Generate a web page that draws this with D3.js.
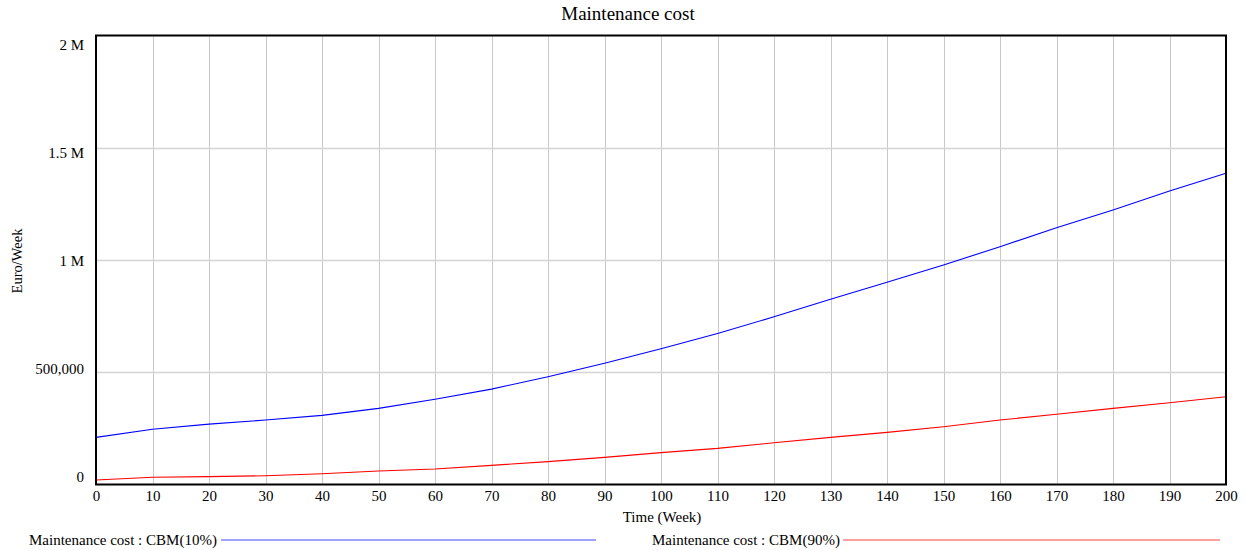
<!DOCTYPE html>
<html>
<head>
<meta charset="utf-8">
<script src="https://cdn.jsdelivr.net/npm/d3@7"></script>
<style>
  html, body { margin: 0; padding: 0; background: #fff; }
  svg { display: block; }
  text { font-family: "Liberation Serif", "DejaVu Serif", serif; fill: #000; }
</style>
</head>
<body>
<svg id="chart" width="1246" height="550"></svg>
<script>
// Data
const weeks = [0,10,20,30,40,50,60,70,80,90,100,110,120,130,140,150,160,170,180,190,200];
const cbm10 = [210000,246000,269000,287000,308000,339000,380000,425000,480000,540000,605000,673000,747000,825000,901000,978000,1059000,1144000,1223000,1307000,1386000];
const cbm90 = [20000,32000,35000,39000,48000,60000,69000,85000,102000,121000,142000,161000,186000,210000,232000,257000,287000,313000,339000,364000,391000];
const xTicks = d3.range(0, 201, 10);
const yTicks = [0, 500000, 1000000, 1500000, 2000000];
const yTickLabels = ["0", "500,000", "1 M", "1.5 M", "2 M"];
const seriesNames = ["Maintenance cost : CBM(10%)", "Maintenance cost : CBM(90%)"];
const seriesColors = ["#0000ff", "#ff0000"];

const svg = d3.select("#chart");
const m = { left: 96, right: 1226, top: 35.5, bottom: 484.5 };

const x = d3.scaleLinear().domain([0, 200]).range([m.left, m.right]);
const y = d3.scaleLinear().domain([0, 2000000]).range([m.bottom, m.top]);
// tick labels are kept inside the plot's vertical extent
const yLab = d3.scaleLinear().domain([0, 2000000]).range([m.bottom - 8, m.top + 9]);

// gridlines
const grid = svg.append("g");
grid.selectAll("line.v").data(xTicks.slice(1, -1)).join("line")
  .attr("x1", d => Math.round(x(d)) + 0.5).attr("x2", d => Math.round(x(d)) + 0.5)
  .attr("y1", m.top).attr("y2", m.bottom)
  .attr("stroke", "#c8c8c8").attr("stroke-width", 1);
grid.selectAll("line.h").data(yTicks.slice(1, -1)).join("line")
  .attr("x1", m.left).attr("x2", m.right)
  .attr("y1", d => Math.round(y(d)) + 0.5).attr("y2", d => Math.round(y(d)) + 0.5)
  .attr("stroke", "#d4d4d4").attr("stroke-width", 1.5);

// series lines
const line = d3.line().x((d, i) => x(weeks[i])).y(d => y(d));
[cbm10, cbm90].forEach((s, k) => {
  svg.append("path").datum(s)
    .attr("d", line)
    .attr("fill", "none")
    .attr("stroke", seriesColors[k])
    .attr("stroke-width", 1.1);
});

// frame
svg.append("rect")
  .attr("x", m.left).attr("y", m.top)
  .attr("width", m.right - m.left).attr("height", m.bottom - m.top)
  .attr("fill", "none").attr("stroke", "#000").attr("stroke-width", 2);

// axes (labels only)
const xAxis = d3.axisBottom(x).tickValues(xTicks).tickSize(0).tickPadding(6);
const gx = svg.append("g").attr("transform", `translate(0,${m.bottom})`).call(xAxis);
gx.select(".domain").remove();
gx.selectAll("text").style("font-size", "15px").style("font-family", "Liberation Serif");

const yAxis = d3.axisLeft(yLab).tickValues(yTicks).tickFormat((d, i) => yTickLabels[i]).tickSize(0).tickPadding(12);
const gy = svg.append("g").attr("transform", `translate(${m.left},0)`).call(yAxis);
gy.select(".domain").remove();
gy.selectAll("text").style("font-size", "15px").style("font-family", "Liberation Serif");

// title
svg.append("text").attr("x", 628).attr("y", 20).attr("text-anchor", "middle")
  .style("font-size", "19px").text("Maintenance cost");

// axis titles
svg.append("text").attr("x", 662).attr("y", 522).attr("text-anchor", "middle")
  .style("font-size", "15px").text("Time (Week)");
svg.append("text").attr("transform", "translate(22,261) rotate(-90)").attr("text-anchor", "middle")
  .style("font-size", "14.5px").text("Euro/Week");

// legend
const legend = [
  { tx: 29, x1: 221, x2: 596 },
  { tx: 652, x1: 843, x2: 1220 }
];
legend.forEach((L, k) => {
  svg.append("text").attr("x", L.tx).attr("y", 545).style("font-size", "15px").text(seriesNames[k]);
  svg.append("line").attr("x1", L.x1).attr("x2", L.x2).attr("y1", 540).attr("y2", 540)
    .attr("stroke", seriesColors[k]).attr("stroke-width", 1).attr("stroke-opacity", 0.75);
});
</script>
</body>
</html>
